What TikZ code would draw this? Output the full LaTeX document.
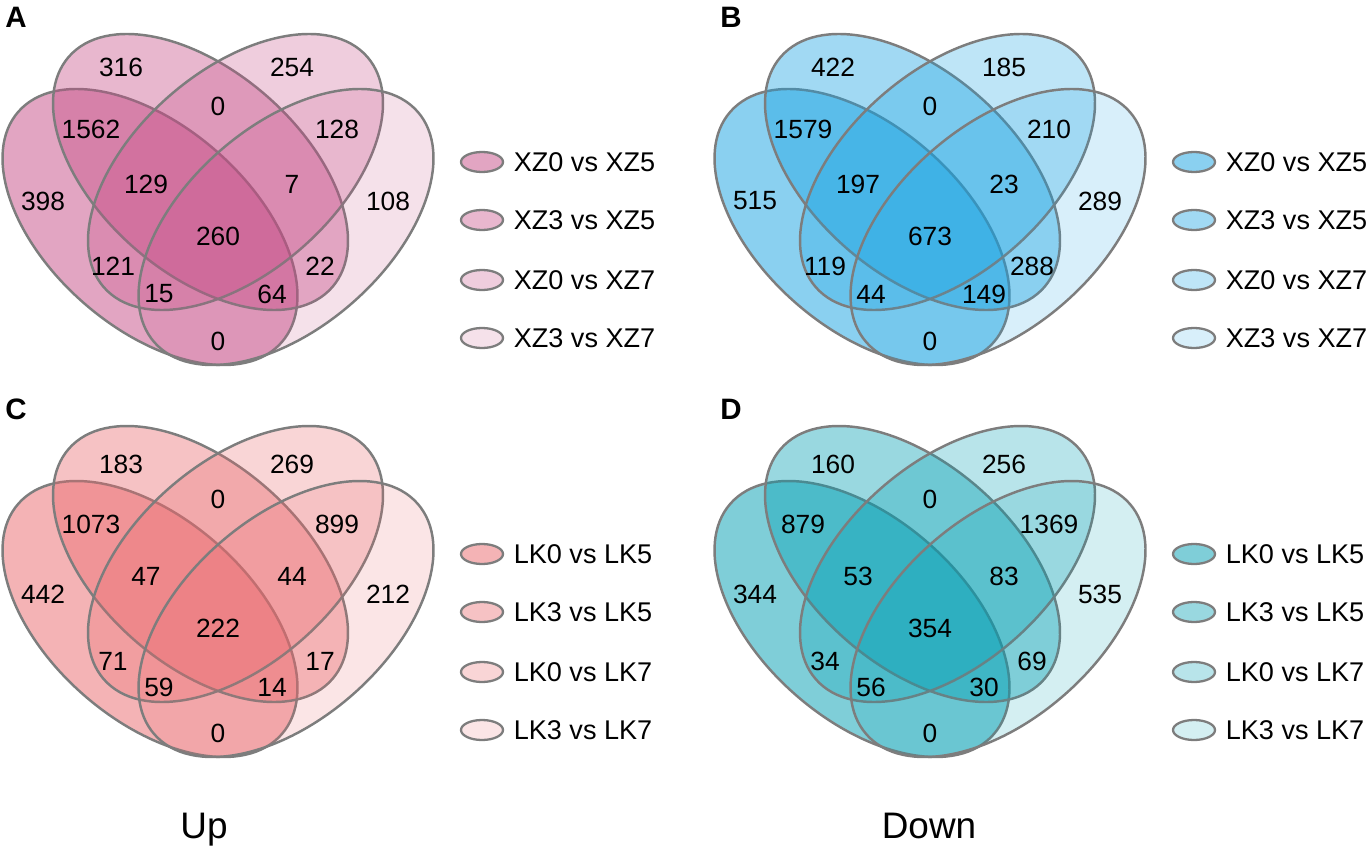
\documentclass[tikz,border=0pt]{standalone}
\usepackage{fontspec}
\setmainfont{Liberation Sans}
\usetikzlibrary{positioning,shapes.geometric}

\definecolor{venngray}{RGB}{125,125,125}
\definecolor{upA}{RGB}{197,75,133}
\definecolor{downB}{RGB}{21,161,225}
\definecolor{upC}{RGB}{233,103,107}
\definecolor{downD}{RGB}{0,158,178}

% the four sets of one panel, #1 = colour
\newcommand{\vennsets}[1]{%
  \draw[setline, fill=#1, fill opacity=.5] (1.50,-2.27) ellipse [x radius=1.75, y radius=1.008, rotate=-41.2];
  \draw[setline, fill=#1, fill opacity=.4] (2.005,-1.72) ellipse [x radius=1.75, y radius=1.008, rotate=-41.2];
  \draw[setline, fill=#1, fill opacity=.28] (2.355,-1.72) ellipse [x radius=1.75, y radius=1.008, rotate=41.2];
  \draw[setline, fill=#1, fill opacity=.17] (2.86,-2.27) ellipse [x radius=1.75, y radius=1.008, rotate=41.2];
}

\begin{document}
\begin{tikzpicture}[
  setline/.style={draw=venngray, line width=0.7pt},
  num/.style={font=\fontsize{7.5}{8}\selectfont, inner sep=0pt},
  panel/.style={font=\fontsize{8.4}{9}\selectfont\bfseries, inner sep=0pt},
  legkey/.style={ellipse, draw=venngray, line width=0.65pt, minimum width=0.42cm, minimum height=0.20cm, inner sep=0pt},
  legtext/.style={font=\fontsize{7.7}{9}\selectfont, inner sep=0pt},
  caption/.style={font=\fontsize{10.5}{12}\selectfont, inner sep=0pt, anchor=base}]

\useasboundingbox (0,0) rectangle (13.69,-8.49);

% A: up, XZ
\begin{scope}
\vennsets{upA}
\node[panel] (pA) at (0.16,-0.17) {A};
\node[num] (a1) at (1.21,-0.67) {316};
\node[num] (a2) at (2.92,-0.67) {254};
\node[num] (a3) at (2.18,-1.06) {0};
\node[num] (a4) at (0.91,-1.29) {1562};
\node[num] (a5) at (3.37,-1.29) {128};
\node[num] (a6) at (1.46,-1.84) {129};
\node[num] (a7) at (2.92,-1.84) {7};
\node[num] (a8) at (0.43,-2.01) {398};
\node[num] (a9) at (3.88,-2.01) {108};
\node[num] (a10) at (2.18,-2.36) {260};
\node[num] (a11) at (1.13,-2.66) {121};
\node[num] (a12) at (3.20,-2.66) {22};
\node[num] (a13) at (1.59,-2.94) {15};
\node[num] (a14) at (2.72,-2.94) {64};
\node[num] (a15) at (2.18,-3.41) {0};
% legend
\node[legkey, fill=upA, fill opacity=.5] (ka1) at (4.82,-1.62) {};
\node[legkey, fill=upA, fill opacity=.4] (ka2) at (4.82,-2.20) {};
\node[legkey, fill=upA, fill opacity=.28] (ka3) at (4.82,-2.80) {};
\node[legkey, fill=upA, fill opacity=.17] (ka4) at (4.82,-3.38) {};
\node[legtext, right=0.09cm of ka1] (ta1) {XZ0 vs XZ5};
\node[legtext, right=0.09cm of ka2] (ta2) {XZ3 vs XZ5};
\node[legtext, right=0.09cm of ka3] (ta3) {XZ0 vs XZ7};
\node[legtext, right=0.09cm of ka4] (ta4) {XZ3 vs XZ7};
\end{scope}

% B: down, XZ
\begin{scope}[shift={(7.12,0)}]
\vennsets{downB}
\node[panel] (pB) at (0.19,-0.17) {B};
\node[num] (b1) at (1.21,-0.67) {422};
\node[num] (b2) at (2.92,-0.67) {185};
\node[num] (b3) at (2.18,-1.06) {0};
\node[num] (b4) at (0.91,-1.29) {1579};
\node[num] (b5) at (3.37,-1.29) {210};
\node[num] (b6) at (1.46,-1.84) {197};
\node[num] (b7) at (2.92,-1.84) {23};
\node[num] (b8) at (0.43,-2.01) {515};
\node[num] (b9) at (3.88,-2.01) {289};
\node[num] (b10) at (2.18,-2.36) {673};
\node[num] (b11) at (1.13,-2.66) {119};
\node[num] (b12) at (3.20,-2.66) {288};
\node[num] (b13) at (1.59,-2.94) {44};
\node[num] (b14) at (2.72,-2.94) {149};
\node[num] (b15) at (2.18,-3.41) {0};
% legend
\node[legkey, fill=downB, fill opacity=.5] (kb1) at (4.82,-1.62) {};
\node[legkey, fill=downB, fill opacity=.4] (kb2) at (4.82,-2.20) {};
\node[legkey, fill=downB, fill opacity=.28] (kb3) at (4.82,-2.80) {};
\node[legkey, fill=downB, fill opacity=.17] (kb4) at (4.82,-3.38) {};
\node[legtext, right=0.09cm of kb1] (tb1) {XZ0 vs XZ5};
\node[legtext, right=0.09cm of kb2] (tb2) {XZ3 vs XZ5};
\node[legtext, right=0.09cm of kb3] (tb3) {XZ0 vs XZ7};
\node[legtext, right=0.09cm of kb4] (tb4) {XZ3 vs XZ7};
\end{scope}

% C: up, LK
\begin{scope}[shift={(0,-3.92)}]
\vennsets{upC}
\node[panel] (pC) at (0.16,-0.17) {C};
\node[num] (c1) at (1.21,-0.72) {183};
\node[num] (c2) at (2.92,-0.72) {269};
\node[num] (c3) at (2.18,-1.07) {0};
\node[num] (c4) at (0.91,-1.32) {1073};
\node[num] (c5) at (3.37,-1.32) {899};
\node[num] (c6) at (1.46,-1.84) {47};
\node[num] (c7) at (2.92,-1.84) {44};
\node[num] (c8) at (0.43,-2.02) {442};
\node[num] (c9) at (3.88,-2.02) {212};
\node[num] (c10) at (2.18,-2.36) {222};
\node[num] (c11) at (1.13,-2.69) {71};
\node[num] (c12) at (3.20,-2.69) {17};
\node[num] (c13) at (1.59,-2.95) {59};
\node[num] (c14) at (2.72,-2.95) {14};
\node[num] (c15) at (2.18,-3.41) {0};
% legend
\node[legkey, fill=upC, fill opacity=.5] (kc1) at (4.82,-1.62) {};
\node[legkey, fill=upC, fill opacity=.4] (kc2) at (4.82,-2.20) {};
\node[legkey, fill=upC, fill opacity=.28] (kc3) at (4.82,-2.80) {};
\node[legkey, fill=upC, fill opacity=.17] (kc4) at (4.82,-3.38) {};
\node[legtext, right=0.09cm of kc1] (tc1) {LK0 vs LK5};
\node[legtext, right=0.09cm of kc2] (tc2) {LK3 vs LK5};
\node[legtext, right=0.09cm of kc3] (tc3) {LK0 vs LK7};
\node[legtext, right=0.09cm of kc4] (tc4) {LK3 vs LK7};
\end{scope}

% D: down, LK
\begin{scope}[shift={(7.12,-3.92)}]
\vennsets{downD}
\node[panel] (pD) at (0.19,-0.17) {D};
\node[num] (d1) at (1.21,-0.72) {160};
\node[num] (d2) at (2.92,-0.72) {256};
\node[num] (d3) at (2.18,-1.07) {0};
\node[num] (d4) at (0.91,-1.32) {879};
\node[num] (d5) at (3.37,-1.32) {1369};
\node[num] (d6) at (1.46,-1.84) {53};
\node[num] (d7) at (2.92,-1.84) {83};
\node[num] (d8) at (0.43,-2.02) {344};
\node[num] (d9) at (3.88,-2.02) {535};
\node[num] (d10) at (2.18,-2.36) {354};
\node[num] (d11) at (1.13,-2.69) {34};
\node[num] (d12) at (3.20,-2.69) {69};
\node[num] (d13) at (1.59,-2.95) {56};
\node[num] (d14) at (2.72,-2.95) {30};
\node[num] (d15) at (2.18,-3.41) {0};
% legend
\node[legkey, fill=downD, fill opacity=.5] (kd1) at (4.82,-1.62) {};
\node[legkey, fill=downD, fill opacity=.4] (kd2) at (4.82,-2.20) {};
\node[legkey, fill=downD, fill opacity=.28] (kd3) at (4.82,-2.80) {};
\node[legkey, fill=downD, fill opacity=.17] (kd4) at (4.82,-3.38) {};
\node[legtext, right=0.09cm of kd1] (td1) {LK0 vs LK5};
\node[legtext, right=0.09cm of kd2] (td2) {LK3 vs LK5};
\node[legtext, right=0.09cm of kd3] (td3) {LK0 vs LK7};
\node[legtext, right=0.09cm of kd4] (td4) {LK3 vs LK7};
\end{scope}

% captions
\node[caption] (up) at (2.04,-8.38) {Up};
\node[caption] (down) at (9.29,-8.38) {Down};
\end{tikzpicture}
\end{document}
